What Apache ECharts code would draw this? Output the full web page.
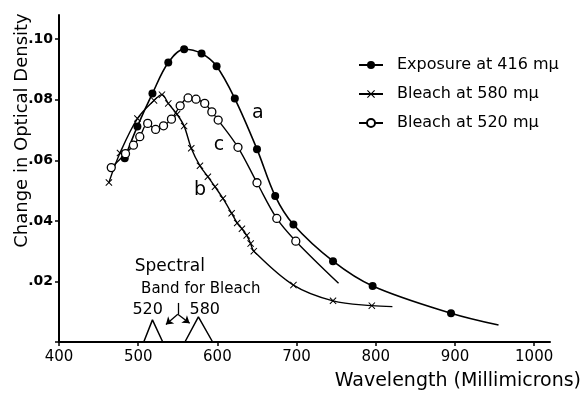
<!DOCTYPE html>
<html>
<head>
<meta charset="utf-8">
<script src="https://cdn.jsdelivr.net/npm/echarts@6/dist/echarts.min.js"></script>
<style>
  html, body { margin: 0; padding: 0; background: #fff; }
  #chart { width: 581px; height: 393px; }
</style>
</head>
<body>
<div id="chart"></div>
<script>
// curve a: exposure at 416 (last point is the end of the drawn curve, no marker)
const waveA = [483, 499, 518, 538, 558, 580, 599, 622, 650, 673, 696, 746, 796, 895, 955]
const densA = [0.0607, 0.0712, 0.0821, 0.0923, 0.0967, 0.0953, 0.0911, 0.0804, 0.0637, 0.0482, 0.0388, 0.0267, 0.0185, 0.0095, 0.0056]

// curve b: bleach at 580
const waveB = [463, 477, 499, 520, 530, 538, 549, 558, 567, 578, 588, 597, 607, 618, 625, 631, 637, 642, 646, 696, 746, 795, 821]
const densB = [0.0527, 0.0624, 0.0738, 0.0798, 0.0817, 0.0788, 0.0752, 0.0713, 0.0640, 0.0582, 0.0546, 0.0513, 0.0474, 0.0425, 0.0393, 0.0374, 0.0352, 0.0325, 0.0300, 0.0188, 0.0136, 0.0120, 0.0117]

// curve c: bleach at 520
const waveC = [466, 484, 494, 502, 512, 522, 532, 542, 553, 563, 573, 584, 593, 601, 626, 650, 675, 699, 753]
const densC = [0.0576, 0.0622, 0.0650, 0.0678, 0.0722, 0.0702, 0.0714, 0.0736, 0.0780, 0.0806, 0.0802, 0.0788, 0.0760, 0.0733, 0.0643, 0.0526, 0.0408, 0.0333, 0.0194]

// spectral bands for bleach (triangles)
const band520X = [507, 518, 531]
const band520Y = [0, 0.0073, 0]
const band580X = [559, 576, 594]
const band580Y = [0, 0.0083, 0]

const xTicks = [400, 500, 600, 700, 800, 900, 1000]
const yTicks = [0.02, 0.04, 0.06, 0.08, 0.10]

const font = 'DejaVu Sans'
const crossPath = 'path://M0,1L1,0L5,4L9,0L10,1L6,5L10,9L9,10L5,6L1,10L0,9L4,5Z'

// last point of a/b/c has no marker (curve just runs on)
const toPoints = function(xs, ys, openEnd) {
  return xs.map(function(x, i) {
    if (openEnd && i === xs.length - 1) return {value: [x, ys[i]], symbol: 'none'}
    return [x, ys[i]]
  })
}

const noteLabel = function(text, coord, size) {
  return {
    coord: coord,
    symbol: 'circle',
    symbolSize: 0,
    label: {show: true, position: 'inside', formatter: text, color: '#000', fontFamily: font, fontSize: size}
  }
}

const chart = echarts.init(document.getElementById('chart'))
chart.setOption({
  animation: false,
  textStyle: {fontFamily: font},
  grid: {left: 59, right: 31, top: 15, bottom: 51, containLabel: false, outerBoundsMode: 'none'},
  legend: {
    data: ['Exposure at 416 mμ', 'Bleach at 580 mμ', 'Bleach at 520 mμ'],
    orient: 'vertical',
    left: 353,
    top: 52,
    itemWidth: 24,
    itemHeight: 10,
    itemGap: 13,
    textStyle: {color: '#000', fontSize: 16, fontFamily: font, padding: [0, 0, 0, 9]}
  },
  xAxis: {
    type: 'value',
    min: 400,
    max: 1020,
    interval: 100,
    name: 'Wavelength (Millimicrons)',
    nameLocation: 'end',
    nameGap: 31,
    nameTextStyle: {color: '#000', fontSize: 19, fontFamily: font, align: 'right', verticalAlign: 'top', padding: [30, 0, 0, 0]},
    axisLine: {lineStyle: {color: '#000', width: 2}},
    axisTick: {length: 4, lineStyle: {color: '#000', width: 1.5}},
    axisLabel: {
      color: '#000', fontSize: 15, margin: 8, showMaxLabel: false,
      formatter: function(v) { return xTicks.indexOf(v) >= 0 ? String(v) : '' }
    },
    splitLine: {show: false}
  },
  yAxis: {
    type: 'value',
    min: 0,
    max: 0.108,
    interval: 0.02,
    name: 'Change in Optical Density',
    nameLocation: 'middle',
    nameGap: 28,
    nameMoveOverlap: false,
    nameTextStyle: {color: '#000', fontSize: 18, fontFamily: font, padding: [0, 0, 0, 96]},
    axisLine: {lineStyle: {color: '#000', width: 2}},
    axisTick: {length: 4, lineStyle: {color: '#000', width: 1.5}},
    axisLabel: {
      color: '#000', fontSize: 14, fontWeight: 'bold', margin: 6, showMaxLabel: false,
      formatter: function(v) {
        const t = yTicks.find(function(k) { return Math.abs(k - v) < 1e-9 })
        if (t === undefined) return ''
        return '.' + String(Math.round(t * 100)).padStart(2, '0')
      }
    },
    splitLine: {show: false}
  },
  series: [
    {
      name: 'Exposure at 416 mμ',
      type: 'line',
      smooth: 0.35,
      data: toPoints(waveA, densA, true),
      symbol: 'circle',
      symbolSize: 8,
      itemStyle: {color: '#000'},
      lineStyle: {color: '#000', width: 1.6},
      markPoint: {data: [noteLabel('a', [651, 0.0756], 19)]}
    },
    {
      name: 'Bleach at 580 mμ',
      type: 'line',
      smooth: 0.35,
      data: toPoints(waveB, densB, true),
      symbol: crossPath,
      symbolSize: 7,
      itemStyle: {color: '#000'},
      lineStyle: {color: '#000', width: 1.4},
      markPoint: {data: [noteLabel('b', [578, 0.0502], 19)]}
    },
    {
      name: 'Bleach at 520 mμ',
      type: 'line',
      smooth: 0.35,
      data: toPoints(waveC, densC, true),
      symbol: 'circle',
      symbolSize: 8,
      itemStyle: {color: '#fff', borderColor: '#000', borderWidth: 1.3},
      lineStyle: {color: '#000', width: 1.4},
      markPoint: {data: [noteLabel('c', [602, 0.065], 19)]}
    },
    {
      name: 'band520',
      type: 'line',
      data: toPoints(band520X, band520Y, false),
      symbol: 'none',
      lineStyle: {color: '#000', width: 1.5},
      markPoint: {
        data: [
          noteLabel('Spectral', [540, 0.0248], 17),
          noteLabel('Band for Bleach', [579, 0.0175], 15),
          noteLabel('520', [512, 0.0106], 16)
        ]
      },
      markLine: {
        silent: true,
        symbol: ['none', 'arrow'],
        symbolSize: 7,
        lineStyle: {color: '#000', width: 1.3, type: 'solid'},
        label: {show: false},
        data: [
          [{coord: [550, 0.0129], symbol: 'none'}, {coord: [550, 0.0092], symbol: 'none'}],
          [{coord: [550, 0.0092]}, {coord: [535, 0.0058]}],
          [{coord: [550, 0.0092]}, {coord: [565, 0.0062]}]
        ]
      }
    },
    {
      name: 'band580',
      type: 'line',
      data: toPoints(band580X, band580Y, false),
      symbol: 'none',
      lineStyle: {color: '#000', width: 1.5},
      markPoint: {data: [noteLabel('580', [584, 0.0106], 16)]}
    }
  ]
})
</script>
</body>
</html>
